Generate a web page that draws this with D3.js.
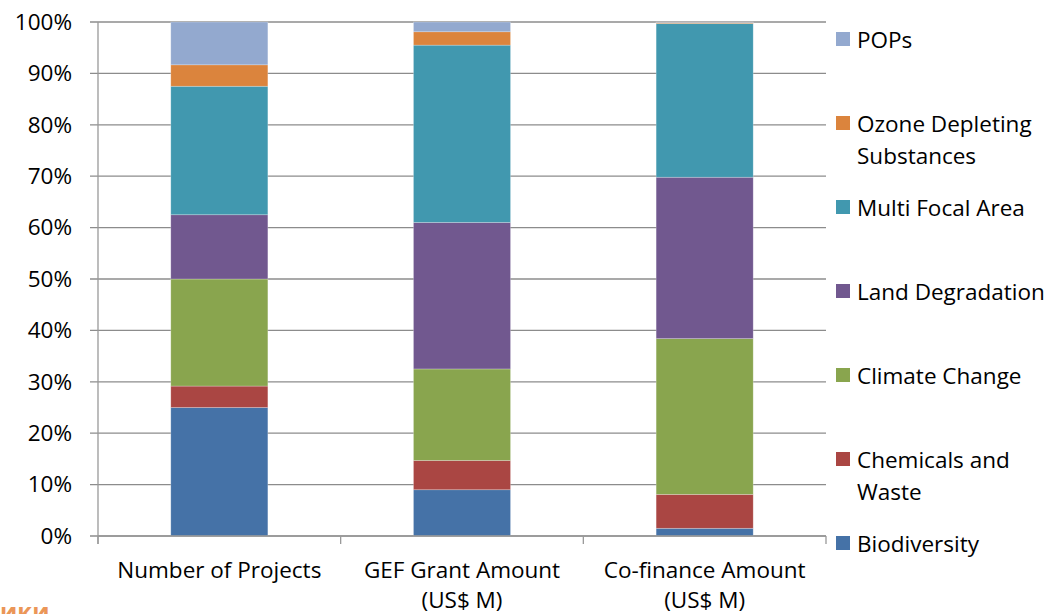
<!DOCTYPE html>
<html>
<head>
<meta charset="utf-8">
<script src="https://cdn.jsdelivr.net/npm/d3@7"></script>
<style>
  body { margin: 0; background: #fff; }
  svg { display: block; font-family: "Open Sans", "Noto Sans", sans-serif; }
  .lbl { font-size: 22.5px; fill: #000; }
</style>
</head>
<body>
<div id="chart"></div>
<script>
// categories on the x axis (each may wrap over two lines)
const categories = ['Number of Projects', 'GEF Grant Amount (US$ M)', 'Co-finance Amount (US$ M)'];
const categoryLines = [['Number of Projects'], ['GEF Grant Amount', '(US$ M)'], ['Co-finance Amount', '(US$ M)']];

// series, bottom to top, shares in percent
const series = ['Biodiversity', 'Chemicals and Waste', 'Climate Change', 'Land Degradation',
                'Multi Focal Area', 'Ozone Depleting Substances', 'POPs'];
const seriesLines = [['Biodiversity'], ['Chemicals and', 'Waste'], ['Climate Change'], ['Land Degradation'],
                     ['Multi Focal Area'], ['Ozone Depleting', 'Substances'], ['POPs']];
const colors = ['#4572A7', '#AA4643', '#89A54E', '#71588F', '#4198AF', '#DB843D', '#93A9CF'];

const biodiversity      = [25.0, 9.0, 1.5];
const chemicalsWaste    = [4.17, 5.7, 6.6];
const climateChange     = [20.83, 17.8, 30.3];
const landDegradation   = [12.5, 28.5, 31.4];
const multiFocal        = [25.0, 34.5, 29.9];
const ozoneDepleting    = [4.17, 2.6, 0.2];
const pops              = [8.33, 1.9, 0.1];

const yTicks = [0, 10, 20, 30, 40, 50, 60, 70, 80, 90, 100];

// build rows for d3.stack
const valuesBySeries = [biodiversity, chemicalsWaste, climateChange, landDegradation, multiFocal, ozoneDepleting, pops];
const rows = categories.map((c, i) => {
    let row = { category: c };
    series.forEach((s, j) => { row[s] = valuesBySeries[j][i]; });
    return row;
});

const W = 1052, H = 614;
const margin = { left: 98, right: 226, top: 22, bottom: 78 };
const w = W - margin.left - margin.right,
      h = H - margin.top - margin.bottom;

const svg = d3.select('#chart').append('svg').attr('width', W).attr('height', H);

const x = d3.scaleBand().domain(categories).range([0, w]).padding(0);
const y = d3.scaleLinear().domain([0, 100]).range([h, 0]);
const color = d3.scaleOrdinal().domain(series).range(colors);

const g = svg.append('g').attr('transform', 'translate(' + margin.left + ',' + margin.top + ')');

// gridlines + y tick marks
g.append('g').attr('class', 'grid')
    .selectAll('line').data(yTicks).enter()
    .append('line')
        .attr('x1', -8).attr('x2', w)
        .attr('y1', d => y(d)).attr('y2', d => y(d))
        .attr('stroke', '#8c8c8c').attr('stroke-width', 1.3);

// y labels
g.append('g').selectAll('text').data(yTicks).enter()
    .append('text').attr('class', 'lbl')
        .attr('x', -26).attr('y', d => y(d))
        .attr('dy', '0.35em').attr('text-anchor', 'end')
        .text(d => d + '%');

// stacked bars
const stacked = d3.stack().keys(series)(rows);
const barW = x.bandwidth() * 0.4;

g.append('g').selectAll('g').data(stacked).enter()
    .append('g').attr('fill', d => color(d.key))
    .selectAll('rect').data(d => d).enter()
    .append('rect')
        .attr('x', d => x(d.data.category) + (x.bandwidth() - barW) / 2)
        .attr('width', barW)
        .attr('y', d => y(d[1]))
        .attr('height', d => y(d[0]) - y(d[1]))
        .attr('stroke', 'rgba(255,255,255,0.35)').attr('stroke-width', 0.7);

// axes lines
g.append('line').attr('x1', 0).attr('x2', 0).attr('y1', 0).attr('y2', h + 8)
    .attr('stroke', '#999').attr('stroke-width', 1.3);
g.append('line').attr('x1', 0).attr('x2', w).attr('y1', h).attr('y2', h)
    .attr('stroke', '#999').attr('stroke-width', 1.3);
g.append('g').selectAll('line').data(d3.range(categories.length + 1)).enter()
    .append('line')
        .attr('x1', i => i * x.step()).attr('x2', i => i * x.step())
        .attr('y1', h).attr('y2', h + 8)
        .attr('stroke', '#999').attr('stroke-width', 1.3);

// x labels
const xl = g.append('g').selectAll('text').data(categories).enter()
    .append('text').attr('class', 'lbl')
        .attr('text-anchor', 'middle')
        .attr('x', d => x(d) + x.bandwidth() / 2)
        .attr('y', h + 42);
xl.selectAll('tspan').data((d, i) => categoryLines[i]).enter()
    .append('tspan')
        .attr('x', function() { return d3.select(this.parentNode).attr('x'); })
        .attr('dy', (d, i) => i ? 30 : 0)
        .text(d => d);

// legend, top entry first
const legendOrder = series.slice().reverse();
const ly = d3.scalePoint().domain(legendOrder).range([40, 544]);
const legend = svg.append('g').attr('transform', 'translate(836,0)');
const items = legend.selectAll('g').data(legendOrder).enter()
    .append('g').attr('transform', d => 'translate(0,' + ly(d) + ')');
items.append('rect').attr('x', 0).attr('y', -8).attr('width', 14).attr('height', 14)
    .attr('fill', d => color(d));
items.append('text').attr('class', 'lbl')
    .attr('x', 21).attr('y', 0)
    .selectAll('tspan').data(d => seriesLines[series.indexOf(d)]).enter()
    .append('tspan').attr('x', 21).attr('dy', (d, i) => i ? 32 : '0.35em').text(d => d);

// cropped watermark fragment, bottom left
svg.append('text').attr('x', 0).attr('y', 620)
    .attr('font-size', 24).attr('font-weight', 'bold').attr('fill', '#E8843A')
    .attr('opacity', 0.85).text('ики');
</script>
</body>
</html>
